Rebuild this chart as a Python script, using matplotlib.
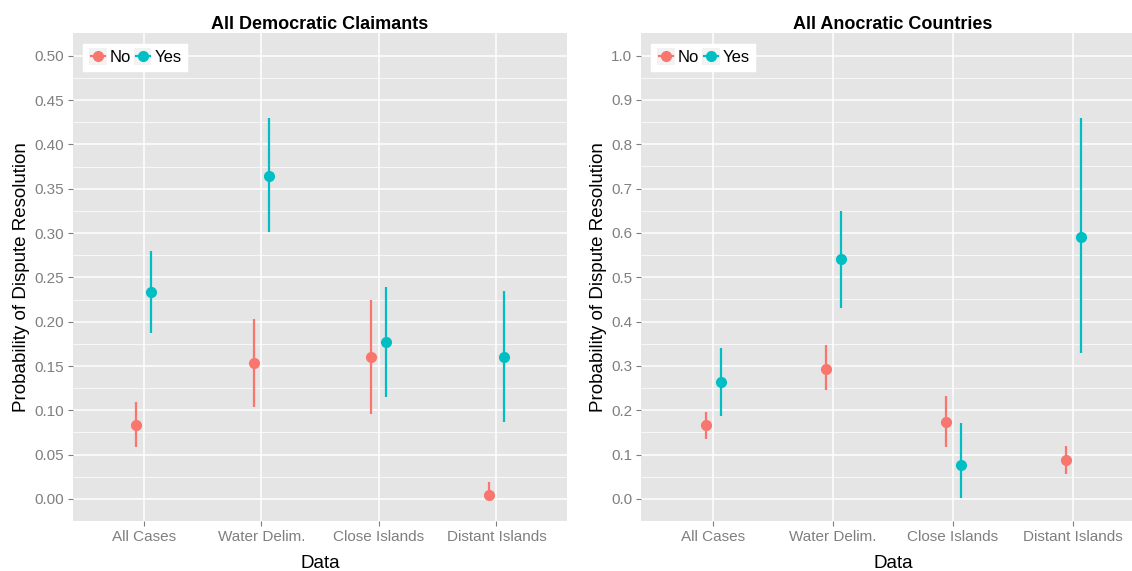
import matplotlib
matplotlib.use("Agg")
import matplotlib.pyplot as plt
import numpy as np
from matplotlib.lines import Line2D
from matplotlib.patches import Rectangle
from matplotlib.legend_handler import HandlerBase

plt.rcParams['font.family'] = ['Liberation Sans', 'DejaVu Sans']

categories = ["All Cases", "Water Delim.", "Close Islands", "Distant Islands"]

# All Democratic Claimants
dem_no = [0.083, 0.153, 0.160, 0.005]
dem_no_lo = [0.059, 0.104, 0.096, 0.000]
dem_no_hi = [0.109, 0.203, 0.224, 0.019]
dem_yes = [0.234, 0.364, 0.177, 0.160]
dem_yes_lo = [0.187, 0.301, 0.115, 0.087]
dem_yes_hi = [0.280, 0.430, 0.239, 0.235]

# All Anocratic Countries
ano_no = [0.167, 0.293, 0.174, 0.088]
ano_no_lo = [0.135, 0.246, 0.117, 0.056]
ano_no_hi = [0.196, 0.347, 0.232, 0.120]
ano_yes = [0.264, 0.542, 0.077, 0.591]
ano_yes_lo = [0.187, 0.431, 0.002, 0.330]
ano_yes_hi = [0.341, 0.650, 0.172, 0.860]

c_no = "#F8766D"
c_yes = "#00BFC4"
grey = "#7F7F7F"


class KeyHandler(HandlerBase):
    # ggplot-like key: grey square, short line and a point
    def create_artists(self, legend, orig, xd, yd, width, height, fontsize, trans):
        side = height * 1.5
        x0 = xd + (width - side) / 2
        y0 = yd + (height - side) / 2
        bg = Rectangle((x0, y0), side, side, facecolor="#F2F2F2", edgecolor="none",
                       transform=trans)
        ln = Line2D([x0 + side * 0.1, x0 + side * 0.9], [yd + height / 2] * 2,
                    color=orig.get_color(), lw=1.6, transform=trans)
        pt = Line2D([x0 + side / 2], [yd + height / 2], marker='o', ms=7,
                    color=orig.get_color(), transform=trans)
        return [bg, ln, pt]


fig = plt.figure(figsize=(11.32, 5.71), dpi=100)
ax1 = fig.add_axes([0.0645, 0.0876, 0.4364, 0.8546])
ax2 = fig.add_axes([0.5663, 0.0876, 0.4452, 0.8546])


def panel(ax, title, no, no_lo, no_hi, yes, yes_lo, yes_hi, ylim, ticks, fmt):
    ax.set_facecolor("#E5E5E5")
    for s in ax.spines.values():
        s.set_visible(False)
    x = np.arange(1, len(categories) + 1)
    # minor grid
    step = ticks[1] - ticks[0]
    for v in np.arange(ticks[0] + step / 2, ticks[-1], step):
        ax.axhline(v, color="white", lw=0.5, zorder=0)
    ax.grid(True, color="white", lw=1.1, zorder=0)
    ax.set_axisbelow(True)
    d = 0.0625
    ax.vlines(x - d, no_lo, no_hi, color=c_no, lw=1.6, zorder=3)
    ax.plot(x - d, no, 'o', color=c_no, ms=7, zorder=4)
    ax.vlines(x + d, yes_lo, yes_hi, color=c_yes, lw=1.6, zorder=3)
    ax.plot(x + d, yes, 'o', color=c_yes, ms=7, zorder=4)
    ax.set_xlim(0.4, 4.6)
    ax.set_ylim(*ylim)
    ax.set_xticks(x)
    ax.set_xticklabels(categories)
    ax.set_yticks(ticks)
    ax.set_yticklabels([fmt % t for t in ticks])
    ax.tick_params(colors=grey, labelcolor=grey, labelsize=11, length=3.5, width=0.8, pad=3)
    ax.set_xlabel("Data", fontsize=13.5, labelpad=8)
    ax.set_ylabel("Probability of Dispute Resolution", fontsize=13.5, labelpad=3)
    ax.set_title(title, fontsize=13, fontweight="bold", pad=3)
    handles = [Line2D([], [], color=c_no), Line2D([], [], color=c_yes)]
    leg = ax.legend(handles, ["No", "Yes"], loc="upper left", ncol=2, fontsize=12,
                    frameon=True, fancybox=False, borderpad=0.35, handlelength=1.1,
                    handletextpad=0.15, columnspacing=0.15, borderaxespad=0.6,
                    bbox_to_anchor=(0.0, 0.997),
                    handler_map={Line2D: KeyHandler()})
    leg.get_frame().set_facecolor("white")
    leg.get_frame().set_edgecolor("white")
    leg.get_frame().set_alpha(1)


panel(ax1, "All Democratic Claimants", dem_no, dem_no_lo, dem_no_hi,
      dem_yes, dem_yes_lo, dem_yes_hi, (-0.0248, 0.5256),
      np.round(np.arange(0, 0.501, 0.05), 2), "%.2f")
panel(ax2, "All Anocratic Countries", ano_no, ano_no_lo, ano_no_hi,
      ano_yes, ano_yes_lo, ano_yes_hi, (-0.0496, 1.051),
      np.round(np.arange(0, 1.01, 0.1), 1), "%.1f")

fig.savefig("out.png", dpi=100)
